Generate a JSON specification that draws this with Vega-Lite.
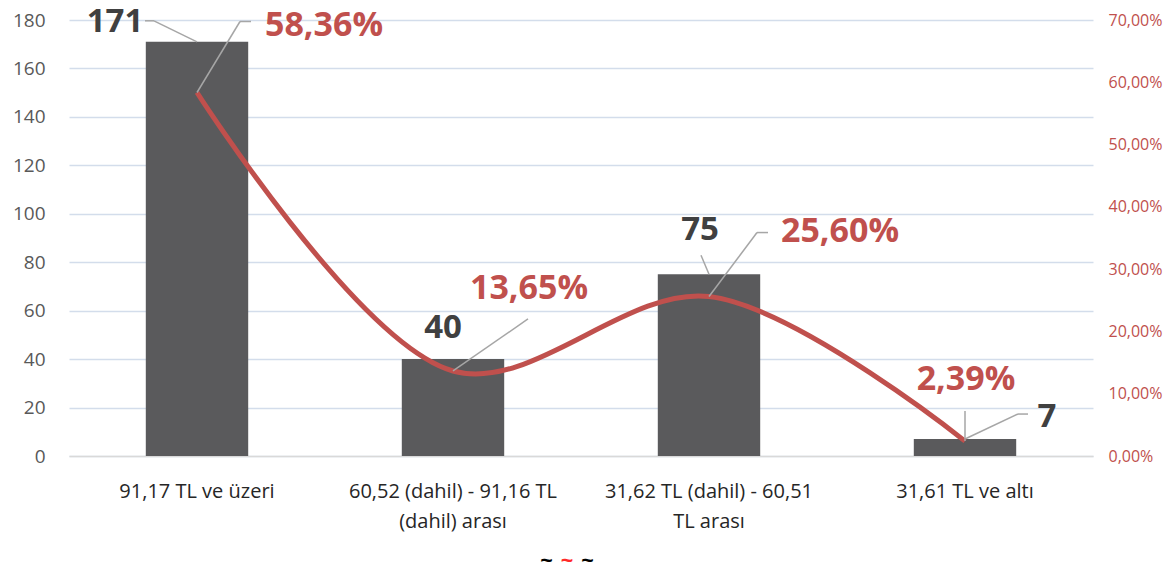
{
  "$schema": "https://vega.github.io/schema/vega-lite/v6.json",
  "width": 1024,
  "height": 436,
  "autosize": {"type": "none"},
  "padding": {"left": 69, "top": 20, "right": 81, "bottom": 111},
  "background": "white",
  "config": {
    "view": {"stroke": null},
    "font": "Open Sans"
  },
  "title": {
    "text": "~\u00a0\u00a0\u00a0\u00a0\u00a0~",
    "subtitle": "~",
    "orient": "bottom",
    "anchor": "middle",
    "dx": -14,
    "offset": 20,
    "font": "Open Sans",
    "fontSize": 22,
    "fontWeight": "bold",
    "color": "#000000",
    "subtitleFont": "Open Sans",
    "subtitleFontSize": 22,
    "subtitleFontWeight": "bold",
    "subtitleColor": "#FF2A2A",
    "subtitlePadding": -22
  },
  "data": {
    "values": [
      {"cat": "91,17 TL ve üzeri", "count": 171, "pct": 0.5836},
      {"cat": "60,52 (dahil) - 91,16 TL|(dahil) arası", "count": 40, "pct": 0.1365},
      {"cat": "31,62 TL (dahil) - 60,51|TL arası", "count": 75, "pct": 0.256},
      {"cat": "31,61 TL ve altı", "count": 7, "pct": 0.0239}
    ]
  },
  "resolve": {"scale": {"y": "independent"}},
  "layer": [
    {
      "encoding": {
        "x": {
          "field": "cat", "type": "nominal", "sort": null,
          "scale": {"paddingInner": 0.6, "paddingOuter": 0.3},
          "axis": {
            "title": null, "labelAngle": 0, "labelExpr": "split(datum.label, '|')",
            "labelFontSize": 20, "labelColor": "#262626", "labelPadding": 25,
            "labelLineHeight": 30, "labelLimit": 0, "ticks": false, "domainColor": "#D9D9D9", "domainWidth": 1.5,
            "labelFont": "Open Sans"
          }
        },
        "y": {
          "field": "count", "type": "quantitative",
          "scale": {"domain": [0, 180]},
          "axis": {
            "title": null, "values": [0,20,40,60,80,100,120,140,160,180],
            "labelFontSize": 19, "labelColor": "#595959", "labelPadding": 24,
            "ticks": false, "domain": false, "gridColor": "#D3DDEB", "gridWidth": 1.5,
            "labelFont": "Open Sans"
          }
        }
      },
      "layer": [
        {"mark": {"type": "bar", "color": "#5A5A5C"}},
        {"transform": [{"filter": "datum.count == 171"}], "mark": {"type": "rule", "color": "#A6A6A6", "strokeWidth": 1.5, "x2Offset": -43, "y2Offset": -21}, "encoding": {"x2": {"field": "cat"}, "y2": {"field": "count"}}},
        {"transform": [{"filter": "datum.count == 171"}], "mark": {"type": "rule", "color": "#A6A6A6", "strokeWidth": 1.5, "xOffset": -43, "yOffset": -21, "x2Offset": -52, "y2Offset": -21}, "encoding": {"x2": {"field": "cat"}, "y2": {"field": "count"}}},
        {"transform": [{"filter": "datum.count == 75"}], "mark": {"type": "rule", "color": "#A6A6A6", "strokeWidth": 1.5, "x2Offset": -8, "y2Offset": -19}, "encoding": {"x2": {"field": "cat"}, "y2": {"field": "count"}}},
        {"transform": [{"filter": "datum.count == 7"}], "mark": {"type": "rule", "color": "#A6A6A6", "strokeWidth": 1.5, "x2Offset": 53, "y2Offset": -25}, "encoding": {"x2": {"field": "cat"}, "y2": {"field": "count"}}},
        {"transform": [{"filter": "datum.count == 7"}], "mark": {"type": "rule", "color": "#A6A6A6", "strokeWidth": 1.5, "xOffset": 53, "yOffset": -25, "x2Offset": 63, "y2Offset": -25}, "encoding": {"x2": {"field": "cat"}, "y2": {"field": "count"}}},
        {"transform": [{"filter": "datum.count == 171"}], "mark": {"type": "text", "text": "171", "dx": -82, "dy": -20, "fontSize": 33, "fontWeight": "bold", "color": "#404040"}},
        {"transform": [{"filter": "datum.count == 40"}], "mark": {"type": "text", "text": "40", "dx": -10, "dy": -31, "fontSize": 33, "fontWeight": "bold", "color": "#404040"}},
        {"transform": [{"filter": "datum.count == 75"}], "mark": {"type": "text", "text": "75", "dx": -9, "dy": -44, "fontSize": 33, "fontWeight": "bold", "color": "#404040"}},
        {"transform": [{"filter": "datum.count == 7"}], "mark": {"type": "text", "text": "7", "dx": 82, "dy": -22, "fontSize": 33, "fontWeight": "bold", "color": "#404040"}}
      ]
    },
    {
      "encoding": {
        "x": {"field": "cat", "type": "nominal", "sort": null},
        "y": {
          "field": "pct", "type": "quantitative",
          "scale": {"domain": [0, 0.7]},
          "axis": {
            "orient": "right", "title": null,
            "labelExpr": "replace(format(datum.value, '.2%'), '.', ',')",
            "values": [0,0.1,0.2,0.3,0.4,0.5,0.6,0.7],
            "labelFontSize": 16, "labelColor": "#C0504D", "labelPadding": 15,
            "ticks": false, "domain": false, "grid": false, "labelFont": "Open Sans"
          }
        }
      },
      "layer": [
        {"mark": {"type": "line", "color": "#C0504D", "strokeWidth": 5, "interpolate": "catmull-rom"}},
        {"transform": [{"filter": "datum.count == 171"}], "mark": {"type": "rule", "color": "#A6A6A6", "strokeWidth": 1.5, "x2Offset": 43, "y2Offset": -71}, "encoding": {"x2": {"field": "cat"}, "y2": {"field": "pct"}}},
        {"transform": [{"filter": "datum.count == 171"}], "mark": {"type": "rule", "color": "#A6A6A6", "strokeWidth": 1.5, "xOffset": 43, "yOffset": -71, "x2Offset": 54, "y2Offset": -71}, "encoding": {"x2": {"field": "cat"}, "y2": {"field": "pct"}}},
        {"transform": [{"filter": "datum.count == 40"}], "mark": {"type": "rule", "color": "#A6A6A6", "strokeWidth": 1.5, "x2Offset": 75, "y2Offset": -52}, "encoding": {"x2": {"field": "cat"}, "y2": {"field": "pct"}}},
        {"transform": [{"filter": "datum.count == 75"}], "mark": {"type": "rule", "color": "#A6A6A6", "strokeWidth": 1.5, "x2Offset": 48, "y2Offset": -64}, "encoding": {"x2": {"field": "cat"}, "y2": {"field": "pct"}}},
        {"transform": [{"filter": "datum.count == 75"}], "mark": {"type": "rule", "color": "#A6A6A6", "strokeWidth": 1.5, "xOffset": 48, "yOffset": -64, "x2Offset": 59, "y2Offset": -64}, "encoding": {"x2": {"field": "cat"}, "y2": {"field": "pct"}}},
        {"transform": [{"filter": "datum.count == 7"}], "mark": {"type": "rule", "color": "#A6A6A6", "strokeWidth": 1.5, "x2Offset": 0, "y2Offset": -30}, "encoding": {"x2": {"field": "cat"}, "y2": {"field": "pct"}}},
        {"transform": [{"filter": "datum.count == 171"}], "mark": {"type": "text", "text": "58,36%", "dx": 127, "dy": -67, "fontSize": 34, "fontWeight": "bold", "color": "#C0504D"}},
        {"transform": [{"filter": "datum.count == 40"}], "mark": {"type": "text", "text": "13,65%", "dx": 76, "dy": -82, "fontSize": 34, "fontWeight": "bold", "color": "#C0504D"}},
        {"transform": [{"filter": "datum.count == 75"}], "mark": {"type": "text", "text": "25,60%", "dx": 131, "dy": -65, "fontSize": 34, "fontWeight": "bold", "color": "#C0504D"}},
        {"transform": [{"filter": "datum.count == 7"}], "mark": {"type": "text", "text": "2,39%", "dx": 1, "dy": -61, "fontSize": 34, "fontWeight": "bold", "color": "#C0504D"}}
      ]
    }
  ]
}
